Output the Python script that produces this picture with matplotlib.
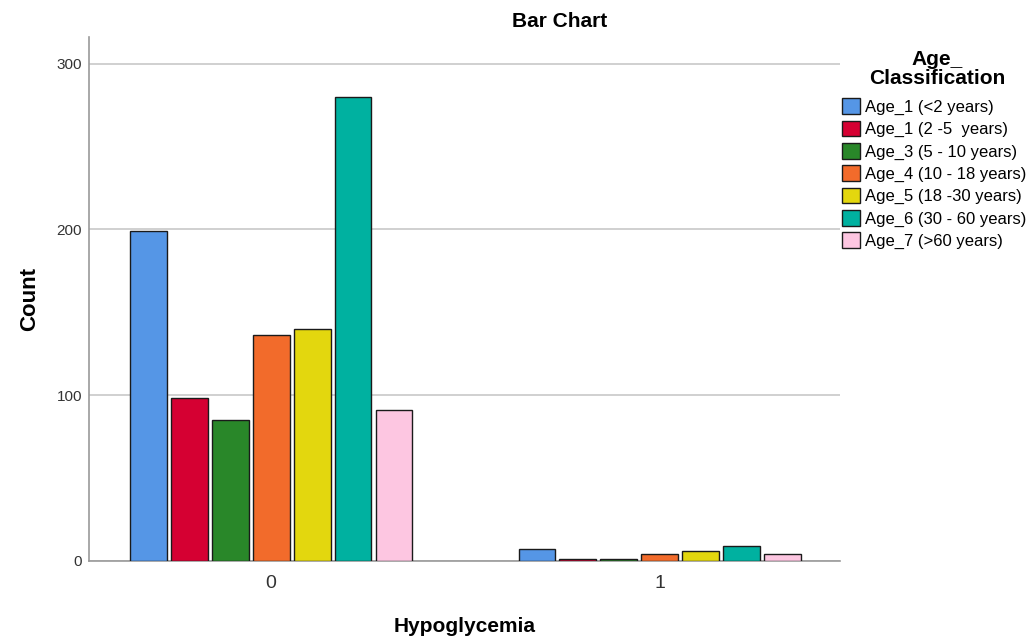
import matplotlib
matplotlib.use("Agg")
import matplotlib.pyplot as plt
import numpy as np

plt.rcParams['font.family'] = ['Liberation Sans', 'DejaVu Sans']

categories = ["0", "1"]
series_names = ["Age_1 (<2 years)", "Age_1 (2 -5  years)", "Age_3 (5 - 10 years)",
                "Age_4 (10 - 18 years)", "Age_5 (18 -30 years)", "Age_6 (30 - 60 years)",
                "Age_7 (>60 years)"]
age1 = [199, 7]
age2 = [98, 1]
age3 = [85, 1]
age4 = [136, 4]
age5 = [140, 6]
age6 = [280, 9]
age7 = [91, 4]
values = [age1, age2, age3, age4, age5, age6, age7]
colors = ["#5596E6", "#D50032", "#298729", "#F26B2B", "#E3D70E", "#00B1A0", "#FDC6E1"]

W, H = 1034, 642
fig = plt.figure(figsize=(W / 100, H / 100), dpi=100)
ax = fig.add_axes([0.0861, 0.1262, 0.7263, 0.8162])

x = np.arange(len(categories))
slot = 0.1054
bw = 0.095
n = len(series_names)
for i, (name, vals, c) in enumerate(zip(series_names, values, colors)):
    ax.bar(x + (i - (n - 1) / 2) * slot, vals, width=bw, color=c,
           edgecolor="#1a1a1a", linewidth=1.0, label=name, zorder=3)

ax.set_xlim(-0.468, 1.463)
ax.set_ylim(0, 316)
ax.set_yticks([0, 100, 200, 300])
ax.set_xticks(x)
ax.set_xticklabels(categories, fontsize=14, color="#333333")
ax.tick_params(axis='both', length=0)
ax.tick_params(axis='y', labelsize=11, colors="#333333", pad=5)
ax.tick_params(axis='x', pad=10)
ax.yaxis.grid(True, color="#c8c8c8", linewidth=1.2, zorder=0)
for s in ["top", "right"]:
    ax.spines[s].set_visible(False)
for s in ["left", "bottom"]:
    ax.spines[s].set_color("#9a9a9a")
    ax.spines[s].set_linewidth(1.2)

ax.set_ylabel("Count", fontsize=16, fontweight="bold", labelpad=12)
ax.set_xlabel("Hypoglycemia", fontsize=15, fontweight="bold", labelpad=18)
fig.text(560 / W, 1 - 27 / H, "Bar Chart", ha="center", va="baseline",
         fontsize=15, fontweight="bold")

# legend title
fig.text(937 / W, 1 - 65 / H, "Age_", ha="center", va="baseline", fontsize=15, fontweight="bold")
fig.text(937 / W, 1 - 84 / H, "Classification", ha="center", va="baseline", fontsize=15, fontweight="bold")

leg = ax.legend(loc="upper left", bbox_to_anchor=(0.814, 1 - 98.5 / H), bbox_transform=fig.transFigure,
                frameon=False, fontsize=12,
                handlelength=1.1, handleheight=1.05, handletextpad=0.3, labelspacing=0.346,
                borderaxespad=0, borderpad=0)

fig.savefig("out.png", dpi=100)
